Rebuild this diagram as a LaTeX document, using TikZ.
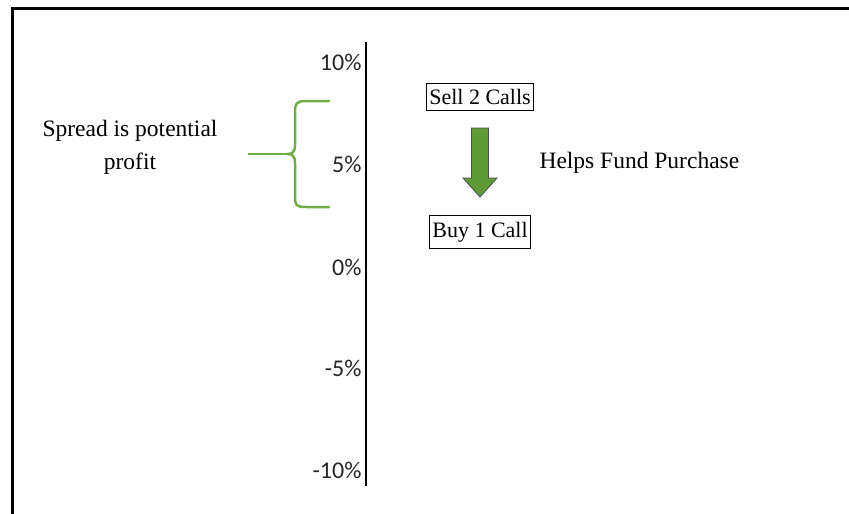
\documentclass[tikz,border=0pt]{standalone}
\usepackage{fontspec}
\setmainfont{Liberation Serif}
\newfontfamily\pctfont{Carlito}
\definecolor{leafgreen}{HTML}{70AD47}
\definecolor{arrowgreen}{HTML}{5E9B36}
\tikzset{
  callbox/.style={draw,line width=1pt,inner xsep=2.5pt,inner ysep=6pt,font=\fontsize{22}{24}\selectfont},
  pct/.style={anchor=east,font=\pctfont\fontsize{24}{26}\selectfont,text=black!85},
  note/.style={font=\fontsize{23.5}{33}\selectfont,align=center}
}
\begin{document}
\begin{tikzpicture}[x=1pt,y=-1pt]
        \useasboundingbox (0,0) rectangle (849,514);
        \draw[line width=3pt] (12,530) -- (12,8) -- (870,8);

        % axis
        \coordinate (top) at (366,42);
        \coordinate (bot) at (366,486);
        \draw[line width=2.5pt] (top) -- (bot);
        \node[pct] (p10) at (365,62) {10\%};
        \node[pct] (p5) at (365,164) {5\%};
        \node[pct] (p0) at (365,267) {0\%};
        \node[pct] (m5) at (365,368) {-5\%};
        \node[pct] (m10) at (365,470) {-10\%};

        % calls
        \node[callbox] (sell) at (480,97) {Sell 2 Calls};
        \node[callbox] (buy) at (480,232) {Buy 1 Call};
        \coordinate (a1) at (480,128);
        \coordinate (a2) at (480,197);
        \filldraw[fill=arrowgreen,draw=black!70,line width=0.8pt]
          ([xshift=-8.5]a1) -- ([xshift=8.5]a1) -- ([xshift=8.5,yshift=19]a2)
          -- ([xshift=17,yshift=19]a2) -- (a2) -- ([xshift=-17,yshift=19]a2)
          -- ([xshift=-8.5,yshift=19]a2) -- cycle;
        \node[note,anchor=west] (helps) at (536,163) {Helps Fund Purchase};

        % spread
        \node[note] (spread) at (130,147) {Spread is potential\\profit};
        \coordinate (stem) at (248,154);
        \coordinate (tip) at (288,154);
        \draw[leafgreen,line width=2.5pt,line cap=round]
          (329,101) -- (306,101) .. controls (296,101) and (295,104) .. (295,112)
          -- (295,145) .. controls (295,152) and (292,154) .. (tip)
          .. controls (292,154) and (295,156) .. (295,163)
          -- (295,197) .. controls (295,205) and (296,207) .. (306,207) -- (329,207);
        \draw[leafgreen,line width=2.5pt] (stem) -- (tip);
\end{tikzpicture}
\end{document}
